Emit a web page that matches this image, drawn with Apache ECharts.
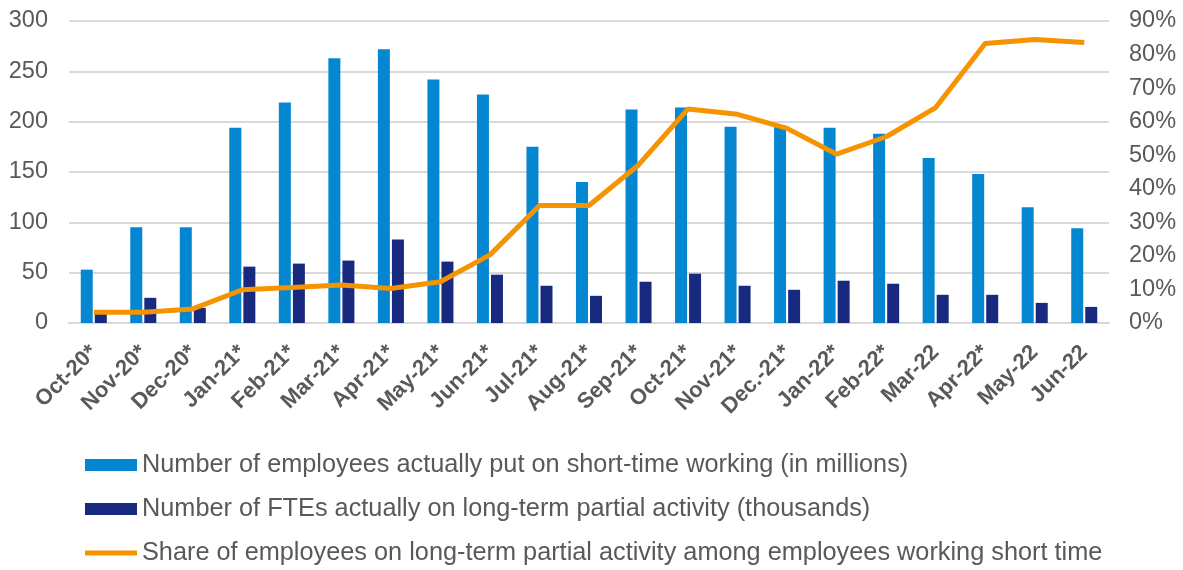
<!DOCTYPE html>
<html>
<head>
<meta charset="utf-8">
<script src="https://cdn.jsdelivr.net/npm/echarts@6/dist/echarts.min.js"></script>
<style>
  html, body { margin: 0; padding: 0; background: #fff; }
  #chart { width: 1183px; height: 570px; }
</style>
</head>
<body>
<div id="chart"></div>
<script>
const categories = ['Oct-20*','Nov-20*','Dec-20*','Jan-21*','Feb-21*','Mar-21*','Apr-21*','May-21*','Jun-21*','Jul-21*','Aug-21*','Sep-21*','Oct-21*','Nov-21*','Dec.-21*','Jan-22*','Feb-22*','Mar-22','Apr-22*','May-22','Jun-22'];
const employeesShortTime = [53, 95, 95, 194, 219, 263, 272, 242, 227, 175, 140, 212, 214, 195, 196, 194, 188, 164, 148, 115, 94];
const ftesLongTerm = [9, 25, 15, 56, 59, 62, 83, 61, 48, 37, 27, 41, 49, 37, 33, 42, 39, 28, 28, 20, 16];
const sharePct = [3.2, 3.2, 4.2, 9.9, 10.6, 11.3, 10.3, 12.3, 20.3, 35, 35, 47.1, 63.8, 62.2, 58, 50.3, 55.5, 64.2, 83.3, 84.5, 83.6];
const leftTicks = { min: 0, max: 300, interval: 50 };
const rightTicks = { min: 0, max: 90, interval: 10 };
const seriesNames = [
  'Number of employees actually put on short-time working (in millions)',
  'Number of FTEs actually on long-term partial activity (thousands)',
  'Share of employees on long-term partial activity among employees working short time'
];

const chart = echarts.init(document.getElementById('chart'));
const font = '"Liberation Sans", Arial, sans-serif';
const legendText = { fontFamily: font, fontSize: 25.3, color: '#595959', lineHeight: 26 };
function legendFor(i, top, h) {
  return {
    orient: 'vertical',
    left: 85,
    top: top,
    padding: 0,
    itemWidth: 52,
    itemHeight: h,
    itemGap: 0,
    textStyle: legendText,
    selectedMode: false,
    data: [{ name: seriesNames[i], icon: 'rect' }]
  };
}
chart.setOption({
  animation: false,
  textStyle: { fontFamily: font },
  grid: { left: 69, right: 74, top: 21, bottom: 247, containLabel: false },
  legend: [
    legendFor(0, 452, 12),
    legendFor(1, 496, 12),
    legendFor(2, 540, 5)
  ],
  xAxis: {
    type: 'category',
    data: categories,
    axisLine: { lineStyle: { color: '#D9D9D9', width: 2 } },
    axisTick: { show: false },
    axisLabel: {
      rotate: 45,
      interval: 0,
      margin: 26,
      fontFamily: font,
      fontSize: 22,
      fontWeight: 'bold',
      color: '#595959'
    }
  },
  yAxis: [
    {
      type: 'value',
      min: leftTicks.min, max: leftTicks.max, interval: leftTicks.interval,
      axisLine: { show: false },
      axisTick: { show: false },
      splitLine: { lineStyle: { color: '#D9D9D9', width: 2 } },
      axisLabel: { fontFamily: font, fontSize: 23.5, color: '#595959', margin: 21 }
    },
    {
      type: 'value',
      min: rightTicks.min, max: rightTicks.max, interval: rightTicks.interval,
      position: 'right',
      axisLine: { show: false },
      axisTick: { show: false },
      splitLine: { show: false },
      axisLabel: { fontFamily: font, fontSize: 23.5, color: '#595959', margin: 20, formatter: '{value}%' }
    }
  ],
  series: [
    {
      name: seriesNames[0],
      type: 'bar',
      data: employeesShortTime,
      barWidth: 12,
      barGap: '17%',
      itemStyle: { color: '#0487D0' }
    },
    {
      name: seriesNames[1],
      type: 'bar',
      data: ftesLongTerm,
      barWidth: 12,
      barGap: '17%',
      itemStyle: { color: '#172A80' }
    },
    {
      name: seriesNames[2],
      type: 'line',
      yAxisIndex: 1,
      data: sharePct,
      symbol: 'none',
      lineStyle: { color: '#F59300', width: 5 },
      itemStyle: { color: '#F59300' },
      z: 5
    }
  ]
});
</script>
</body>
</html>
